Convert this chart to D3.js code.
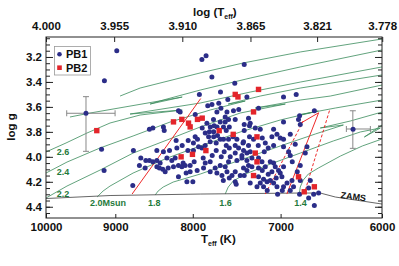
<!DOCTYPE html>
<html><head><meta charset="utf-8">
<script src="https://cdn.jsdelivr.net/npm/d3@7/dist/d3.min.js"></script>
<style>
body{margin:0;background:#fff}
svg{display:block}
text{font-family:"Liberation Sans",Arial,Helvetica,sans-serif;font-weight:bold}
</style>
</head><body>
<svg id="chart" width="399" height="266"></svg>
<script>
// ---------- data ----------
const pb1 = [
[8980,3.15],[9150,3.39],[9410,3.65],[9190,3.94],[9155,4.11],[7840,3.19],[7890,3.22],[7505,3.41],
[7920,3.50],[7670,3.48],[7585,3.54],[7820,3.59],[7770,3.58],[7690,3.57],[7665,3.61],[7595,3.64],
[7520,3.63],[7460,3.62],[8155,3.64],[7970,3.66],[8500,3.77],[8545,3.78],[8365,3.76],[8355,3.79],
[7830,3.73],[7790,3.76],[7800,3.80],[7750,3.80],[7710,3.76],[7635,3.76],[7615,3.68],[7500,3.70],
[7810,3.84],[7750,3.84],[7705,3.83],[7673,3.86],[7791,3.88],[7720,3.89],[7635,3.86],[7577,3.86],
[7526,3.84],[7481,3.86],[7971,3.84],[7943,3.86],[7992,3.89],[7930,3.92],[7890,3.93],[7992,3.95],
[8060,3.95],[8196,3.93],[8288,3.95],[8365,3.96],[8449,3.95],[8756,3.95],[8658,4.01],[8592,4.03],
[8545,4.03],[8501,4.04],[8449,4.03],[8407,4.05],[8321,4.01],[8259,4.03],[8217,4.01],[8118,4.05],
[8093,4.07],[8134,4.08],[8176,4.07],[8676,4.07],[8601,4.09],[8449,4.08],[8416,4.09],[8373,4.10],
[8238,4.08],[8032,4.12],[8081,4.13],[8176,4.16],[8072,4.20],[8764,4.23],[7999,4.20],[7870,4.09],
[7850,4.05],[7791,4.12],[7712,4.13],[7653,4.15],[7595,4.12],[7537,4.15],[7500,4.12],[7443,4.15],
[7732,4.09],[7673,4.07],[7615,4.08],[7577,4.04],[7557,4.00],[7500,3.97],[7424,3.99],[7481,4.03],
[7500,4.20],[7489,4.22],[7500,3.91],[7462,3.93],[7412,3.89],[7874,4.01],[7752,3.70],[7673,3.72],
[7615,3.72],[7577,3.70],[8176,3.63],[7712,3.64],[7771,3.36],[7398,3.26],[7368,3.52],[6969,3.52],
[6836,3.50],[7239,3.61],[6650,3.63],[6801,3.67],[6812,3.70],[7350,3.69],[7331,3.73],[7398,3.74],
[7339,3.75],[7220,3.78],[7339,3.84],[7294,3.86],[7350,3.91],[7406,3.88],[7075,3.78],[7039,3.82],
[7093,3.84],[7004,3.85],[6969,3.86],[6898,3.82],[7075,3.91],[7165,3.89],[6969,3.92],[6915,3.96],
[6898,3.99],[6725,3.92],[6742,3.97],[7406,3.95],[7368,3.97],[7331,3.96],[7424,4.01],[7368,4.03],
[7312,4.01],[7239,4.01],[7201,4.04],[7350,4.07],[7312,4.08],[7406,4.09],[7368,4.11],[7239,4.09],
[7165,4.08],[7111,4.04],[7075,4.05],[7057,4.08],[7093,4.12],[7022,4.11],[7004,4.13],[6986,4.16],
[6969,4.08],[7239,4.16],[7184,4.18],[7146,4.20],[7111,4.19],[7075,4.21],[7220,4.21],[7184,4.24],
[7256,4.24],[7039,4.24],[6969,4.24],[6932,4.21],[6880,4.19],[6864,4.24],[6898,4.27],[6794,4.19],
[6708,4.25],[6657,4.30],[6607,4.29],[6708,4.33],[6650,4.39],[6801,4.30],[6691,4.19],[7032,4.30],
[6270,3.78],[6969,3.72],[6794,3.74],
[7398,3.79],[7275,3.77],[7198,3.85],[7242,3.91],[7176,3.96],[7133,3.93],[7198,4.11],[7133,4.14],
[7047,4.17],[7398,4.15],[7331,4.21],[7144,4.27],[6982,4.27],[7886,3.77],[7850,3.81],[7744,3.75],
[7603,3.79],[7568,3.76],[7603,3.91],[7568,3.93],[7850,3.91],[8056,3.87],[8130,3.91],[8205,3.87],
[8305,4.09],[7983,4.04],[7947,4.11],[8032,4.07],[8343,4.12],[7661,4.00],[7720,3.95],[7627,3.96],
[7767,3.99],[7791,4.04],[7568,4.17],[7637,4.19],[6846,3.90],[6877,4.04],[6794,4.07],[6825,4.12]
];
const pb2 = [
[9257,3.79],[8238,3.72],[8134,3.70],[8052,3.73],[8032,3.76],[7943,3.70],[7886,3.69],[7685,3.79],
[7523,3.82],[7842,3.95],[8004,3.98],[8143,4.00],[7500,3.50],[7469,3.52],[7239,3.46],[7294,3.64],
[7256,3.84],[7275,3.97],[7256,4.04],[7294,4.15],[6812,4.16],[6753,4.28],[6650,4.24]
];
const track30 = [[8935,3.513],[8667,3.449],[7910,3.328],[7409,3.248],[6794,3.160],[6000,3.056]];
const track28 = [[9642,3.681],[9352,3.649],[8130,3.521],[8536,3.577],[8368,3.545],[7910,3.465],[7331,3.369],[6794,3.280],[6000,3.144]];
const track26 = [[10000,3.961],[9700,3.889],[9395,3.809],[9072,3.729],[8667,3.665],[8130,3.625],[8800,3.657],[7910,3.569],[7331,3.481],[6794,3.401],[6000,3.280]];
const track24 = [[10000,4.130],[9686,4.042],[9211,3.929],[8760,3.833],[8280,3.721],[7791,3.625],[7387,3.553],[7580,3.577],[7220,3.513],[6794,3.449],[6000,3.344]];
const track22 = [[10000,4.330],[9686,4.234],[9211,4.106],[8760,3.970],[8318,3.865],[7910,3.761],[7443,3.649],[6950,3.577],[7275,3.609],[6794,3.545],[6490,3.513],[6000,3.425]];
const track20 = [[9253,4.322],[9169,4.274],[9072,4.234],[8760,4.130],[8318,4.010],[7910,3.913],[7443,3.801],[7004,3.705],[6610,3.633],[6815,3.665],[6441,3.609],[6000,3.545]];
const track18 = [[8471,4.306],[8433,4.274],[8368,4.242],[8242,4.202],[7910,4.138],[7443,4.026],[7004,3.913],[6640,3.817],[6363,3.745],[6590,3.769],[6296,3.713],[6000,3.641]];
const track16 = [[7615,4.298],[7580,4.242],[7523,4.194],[7387,4.138],[7111,4.058],[6794,3.970],[6461,3.873],[6201,3.801],[6015,3.769],[6163,3.841],[6000,3.745]];
const track14 = [[6804,4.298],[6794,4.242],[6763,4.186],[6711,4.138],[6610,4.090],[6392,3.994],[6182,3.913],[6000,3.857]];
const tracks = [track30,track28,track26,track24,track22,track20,track18,track16,track14];
const zams = [[10000,4.334],[9072,4.310],[7910,4.298],[6794,4.290],[6590,4.290],[6441,4.322],[6000,4.378]];
const trackLabels = [
  {text:"2.6",teff:9839,logg:3.982},{text:"2.4",teff:9839,logg:4.146},{text:"2.2",teff:9839,logg:4.318},
  {text:"2.0Msun",teff:9352,logg:4.397},{text:"1.8",teff:8562,logg:4.394},{text:"1.6",teff:7685,logg:4.394},
  {text:"1.4",teff:6857,logg:4.394}
];
const zamsLabel = {text:"ZAMS",teff:6267,logg:4.318};
const redSolid = [[[8773,4.298],[7904,3.533]],[[6934,4.298],[6607,3.647]],[[6804,3.737],[6607,3.647]]];
const redDashed = [[[7165,4.298],[6763,3.713]],[[6742,4.266],[6497,3.625]]];
const errBars = [
  {teff:9410,logg:3.651,tLo:9690,tHi:9003,gLo:3.518,gHi:3.956},
  {teff:6272,logg:3.777,tLo:6334,tHi:6107,gLo:3.631,gHi:3.932}
];
const teffTicks = [10000,9000,8000,7000,6000];
const logTeffTicks = [4.000,3.955,3.910,3.865,3.821,3.778];
const loggMajor = [3.2,3.4,3.6,3.8,4.0,4.2,4.4];
const loggMinor = d3.range(3.05,4.49,0.05);
const legendItems = ["PB1","PB2"];

// ---------- layout ----------
const L=46,R=382,T=37,B=218;
const svg = d3.select("#chart");
const x = d3.scaleLog().domain([10000,6000]).range([L,R]);
const xTop = d3.scaleLinear().domain([4,Math.log10(6000)]).range([L,R]);
const y = d3.scaleLinear().domain([3.04,4.49]).range([T,B]);

svg.append("defs").append("clipPath").attr("id","clip")
  .append("rect").attr("x",L).attr("y",T).attr("width",R-L).attr("height",B-T);
const plot = svg.append("g").attr("clip-path","url(#clip)");
const line = d3.line().x(d=>x(d[0])).y(d=>y(d[1]));

plot.selectAll(".trk").data(tracks).enter().append("path")
  .attr("d",line).attr("fill","none").attr("stroke","#3a8c5c").attr("stroke-width",0.8);
plot.append("path").datum(zams).attr("d",line).attr("fill","none").attr("stroke","#555").attr("stroke-width",0.9);

plot.selectAll(".rs").data(redSolid).enter().append("path")
  .attr("d",line).attr("fill","none").attr("stroke","#ee2a2a").attr("stroke-width",1);
plot.selectAll(".rd").data(redDashed).enter().append("path")
  .attr("d",line).attr("fill","none").attr("stroke","#ee2a2a").attr("stroke-width",1).attr("stroke-dasharray","3,2");

// error bars
const eg = plot.append("g").attr("stroke","#888").attr("stroke-width",1);
errBars.forEach(e=>{
  const cx=x(e.teff), cy=y(e.logg);
  eg.append("line").attr("x1",x(e.tLo)).attr("x2",x(e.tHi)).attr("y1",cy).attr("y2",cy);
  eg.append("line").attr("x1",cx).attr("x2",cx).attr("y1",y(e.gLo)).attr("y2",y(e.gHi));
  [e.tLo,e.tHi].forEach(t=>eg.append("line").attr("x1",x(t)).attr("x2",x(t)).attr("y1",cy-3).attr("y2",cy+3));
  [e.gLo,e.gHi].forEach(g=>eg.append("line").attr("x1",cx-3).attr("x2",cx+3).attr("y1",y(g)).attr("y2",y(g)));
});

// points
plot.selectAll(".p1").data(pb1).enter().append("circle")
  .attr("cx",d=>x(d[0])).attr("cy",d=>y(d[1])).attr("r",2.5).attr("fill","#2b2d88");
plot.selectAll(".p2").data(pb2).enter().append("rect")
  .attr("x",d=>x(d[0])-2.7).attr("y",d=>y(d[1])-2.7).attr("width",5.4).attr("height",5.4).attr("fill","#e3252b");

// labels
svg.selectAll(".tl").data(trackLabels).enter().append("text")
  .attr("x",d=>x(d.teff)).attr("y",d=>y(d.logg)).text(d=>d.text)
  .attr("font-size",9).attr("fill","#1f7a3c");
svg.append("text").attr("transform",`translate(${x(zamsLabel.teff)},${y(zamsLabel.logg)}) rotate(8)`)
  .attr("text-anchor","middle").attr("dy","0.35em").attr("font-size",9).attr("fill","#111").text(zamsLabel.text);

// legend
const lg = svg.append("g");
lg.append("rect").attr("x",54.5).attr("y",46.5).attr("width",36).attr("height",28.5)
  .attr("fill","#fff").attr("stroke","#999").attr("stroke-width",0.8);
lg.append("circle").attr("cx",59.5).attr("cy",54.3).attr("r",2.3).attr("fill","#2b2d88");
lg.append("rect").attr("x",57.2).attr("y",65.4).attr("width",4.6).attr("height",4.6).attr("fill","#e3252b");
lg.selectAll(".lt").data(legendItems).enter().append("text")
  .attr("x",66).attr("y",(d,i)=>58.3+i*13.4).attr("font-size",11).attr("fill","#111").text(d=>d);

// axes
const axStyle = g=>{g.select(".domain").remove();g.selectAll("line").attr("stroke","#222");
  g.selectAll("text").attr("font-size",11.5).attr("fill","#111").attr("font-family",'"Liberation Sans",Arial,sans-serif').attr("font-weight","bold");};
svg.append("g").attr("transform",`translate(${L},0)`)
  .call(d3.axisLeft(y).tickValues(loggMajor).tickSize(-7).tickPadding(4).tickFormat(d3.format(".1f"))).call(axStyle);
svg.append("g").attr("transform",`translate(${L},0)`)
  .call(d3.axisLeft(y).tickValues(loggMinor).tickSize(-4).tickFormat("")).call(axStyle);
svg.append("g").attr("transform",`translate(${R},0)`)
  .call(d3.axisRight(y).tickValues(loggMajor).tickSize(-7).tickFormat("")).call(axStyle);
svg.append("g").attr("transform",`translate(${R},0)`)
  .call(d3.axisRight(y).tickValues(loggMinor).tickSize(-4).tickFormat("")).call(axStyle);
svg.append("g").attr("transform",`translate(0,${B})`)
  .call(d3.axisBottom(x).tickValues(teffTicks).tickSize(-4).tickPadding(5).tickFormat(d3.format("d"))).call(axStyle);
svg.append("g").attr("transform",`translate(0,${T})`)
  .call(d3.axisTop(xTop).tickValues(logTeffTicks).tickSize(-5).tickPadding(7.5).tickFormat(d3.format(".3f"))).call(axStyle);
svg.append("rect").attr("x",L).attr("y",T).attr("width",R-L).attr("height",B-T)
  .attr("fill","none").attr("stroke","#222").attr("stroke-width",1);

// titles
const tt = svg.append("text").attr("x",193).attr("y",16).attr("font-size",11.5).attr("fill","#111");
tt.append("tspan").text("log (T");
tt.append("tspan").text("eff").attr("font-size",7).attr("dy",3);
tt.append("tspan").text(")").attr("dy",-3);
const bt = svg.append("text").attr("x",201).attr("y",243).attr("font-size",11.5).attr("fill","#111");
bt.append("tspan").text("T");
bt.append("tspan").text("eff").attr("font-size",7).attr("dy",3);
bt.append("tspan").text(" (K)").attr("dy",-3);
svg.append("text").attr("transform","translate(15,127) rotate(-90)").attr("text-anchor","middle")
  .attr("font-size",11.5).attr("fill","#111").text("log g");
</script>
</body></html>
